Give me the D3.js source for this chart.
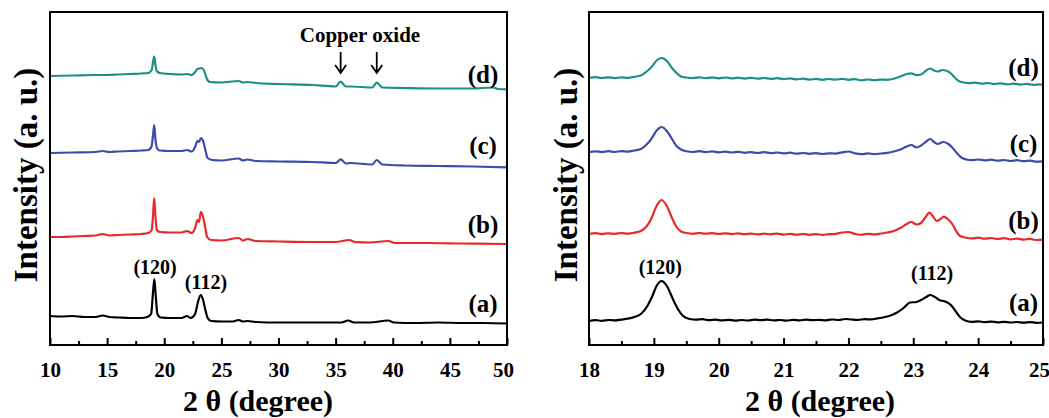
<!DOCTYPE html>
<html>
<head>
<meta charset="utf-8">
<script src="https://cdn.jsdelivr.net/npm/d3@7"></script>
<style>
  body { margin: 0; background: #fff; }
  text { font-family: "Liberation Serif", "Times New Roman", serif; font-weight: bold; fill: #000; }
</style>
</head>
<body>
<svg id="chart" width="1049" height="418"></svg>
<script>
// XRD patterns, offset vertically (a.u.); each point is [2θ (deg), intensity]
const seriesNames = ["(a)", "(b)", "(c)", "(d)"];
const seriesColors = ["#000000", "#e8282b", "#3d4bab", "#1d8f87"];

// Wide scan 10–50°
const wideA = [[10,29],[11,28.5],[12,29],[13,28],[14,28],[14.6,29.5],[15.2,28],[16,27.5],[17,27],[18,27],[18.5,28],[18.85,31],[19.0,50],[19.13,66],[19.25,50],[19.4,31],[19.7,27.5],[20.5,27],[21.5,27],[22.0,29],[22.3,27],[22.7,31],[22.95,43],[23.19,50],[23.4,45],[23.6,35],[23.8,27],[24.1,24],[25,23.5],[26.0,23.5],[26.5,25],[26.9,23.5],[27.3,24],[28,23],[30,22.5],[32,22.5],[34,22.5],[35.5,22.5],[36.1,24.5],[36.6,22.5],[38,22.5],[39.6,24.5],[40.1,22.5],[42,22],[44,22.5],[46,22],[48,22],[50,21.5]];
const wideB = [[10,108],[11,108],[12,108.5],[13,109],[14,109.5],[14.6,111],[15.2,109.5],[16,110],[17,110.5],[18,111],[18.6,112],[18.9,115],[19.02,130],[19.12,147],[19.22,130],[19.35,115],[19.6,113],[20.5,112.5],[21.5,112.5],[22.0,114],[22.4,112],[22.7,117],[22.9,125],[23.05,123],[23.2,133],[23.35,130],[23.55,120],[23.75,108],[24.1,105],[25,104.5],[26.5,107],[26.9,104.5],[27.3,106],[28,104],[30,103.5],[33,103],[35,103],[36.2,105],[36.7,103],[38,102.5],[39.6,104],[40.2,102],[43,102],[46,101.5],[50,101]];
const wideC = [[10,192],[12,192.5],[14,193],[14.6,194],[15.2,193],[16,193.5],[17,194],[18,194.5],[18.6,195],[18.9,199],[19.02,210],[19.12,220],[19.22,207],[19.35,197],[19.6,194.5],[20.5,194],[21.5,194],[22.0,195],[22.4,193.5],[22.7,198],[22.9,204],[23.05,203],[23.2,207],[23.4,204],[23.6,195],[23.8,187],[24.2,185],[25,184.5],[26.5,186.5],[26.9,184.5],[27.3,185.5],[28,184],[30,183.5],[33,183],[35,182],[35.44,185.7],[35.9,181.5],[36.3,182],[38.2,180.5],[38.6,185],[39.1,180.5],[41,179.5],[44,179],[47,178.5],[50,177.7]];
const wideD = [[10,269],[12,269.5],[14,270],[15,270],[16,270.5],[17,271],[18,271.5],[18.6,272],[18.9,275],[19.02,283],[19.12,288.5],[19.22,281],[19.35,274],[19.6,272],[20.5,271],[21.5,270.5],[22.0,271],[22.4,270],[22.7,273],[22.9,276],[23.1,276.5],[23.3,277],[23.5,274],[23.7,267],[24.0,263],[25,262.5],[26.5,264],[26.9,262.5],[27.3,263],[28,262],[30,261],[33,260],[35,258.5],[35.44,263.3],[35.9,258.5],[36.3,258.5],[38.2,257.5],[38.6,262.3],[39.1,257.5],[41,257],[44,256.5],[47,256.5],[48.8,257.5],[49.2,256],[50,255.7]];

// Narrow scan 18–25°
const zoomA = [[18,24],[18.1,24.8],[18.2,24.2],[18.3,25],[18.4,24.6],[18.5,25.4],[18.6,26.3],[18.7,28],[18.8,31],[18.9,39],[18.97,48],[19.05,60],[19.12,64],[19.2,59],[19.3,45],[19.38,35],[19.45,29],[19.55,26],[19.65,25.3],[19.75,25.8],[19.85,24.8],[19.95,25.3],[20.05,24.6],[20.15,25.2],[20.25,24.4],[20.35,25],[20.45,24.5],[20.55,25.3],[20.65,24.8],[20.75,25.4],[20.85,24.6],[20.95,25],[21.05,24.4],[21.15,25.1],[21.25,24.6],[21.35,25.4],[21.45,24.8],[21.55,25.2],[21.65,24.7],[21.75,25.5],[21.85,25],[21.95,26],[22.05,25.5],[22.15,25.2],[22.25,25.8],[22.35,25.6],[22.45,26.6],[22.55,27.8],[22.65,29.5],[22.75,32.5],[22.85,37],[22.95,42.5],[23.05,43],[23.12,45],[23.2,48],[23.26,50],[23.32,48.5],[23.4,45],[23.5,43.3],[23.58,40],[23.65,34],[23.72,28],[23.8,24.5],[23.9,23.2],[24.0,23.6],[24.1,22.9],[24.2,23.4],[24.3,22.7],[24.4,23.2],[24.5,22.5],[24.6,23],[24.7,22.4],[24.8,22.9],[24.9,22.2],[25,22.5]];
const zoomB = [[18,111],[18.1,111.8],[18.2,110.9],[18.3,111.7],[18.4,111.2],[18.5,112],[18.6,111.4],[18.7,112.3],[18.8,114],[18.88,118],[18.95,125],[19.05,140],[19.12,145],[19.2,139],[19.28,127],[19.35,118],[19.42,113.5],[19.5,112],[19.6,111.2],[19.7,112],[19.8,111.3],[19.9,111.9],[20.0,111],[20.1,111.7],[20.2,110.9],[20.3,111.6],[20.4,110.8],[20.5,111.4],[20.6,110.6],[20.7,111.3],[20.8,110.7],[20.9,111.4],[21.0,110.4],[21.1,111.1],[21.2,110.3],[21.3,111],[21.4,110.2],[21.5,110.9],[21.6,110.1],[21.7,110.8],[21.8,111.2],[21.9,112.5],[22.0,113],[22.1,111],[22.2,110.2],[22.3,111.2],[22.4,110.6],[22.5,111.5],[22.6,112.5],[22.7,114],[22.8,117],[22.9,121],[22.97,123],[23.05,120.5],[23.12,122],[23.18,127],[23.25,132.3],[23.3,129],[23.36,124],[23.42,126],[23.47,128.3],[23.53,126],[23.6,121],[23.66,114],[23.72,109],[23.8,107.5],[23.9,106.6],[24.0,107.3],[24.1,106.3],[24.2,107],[24.3,106],[24.4,106.8],[24.5,105.6],[24.6,106.4],[24.7,105.4],[24.8,106.1],[24.9,105],[25,105.3]];
const zoomC = [[18,193],[18.1,193.7],[18.2,192.9],[18.3,193.8],[18.4,193.1],[18.5,193.9],[18.6,193.3],[18.7,194.5],[18.8,196],[18.88,200],[18.95,205],[19.05,215],[19.12,218],[19.2,214],[19.28,206],[19.35,199],[19.42,195.5],[19.5,193.8],[19.6,193],[19.7,193.8],[19.8,192.9],[19.9,193.6],[20.0,192.6],[20.1,193.4],[20.2,192.5],[20.3,193.2],[20.4,192.2],[20.5,192.9],[20.6,192],[20.7,192.8],[20.8,191.9],[20.9,192.5],[21.0,191.6],[21.1,192.3],[21.2,191.3],[21.3,192],[21.4,191.2],[21.5,191.9],[21.6,191],[21.7,191.7],[21.8,191.4],[21.9,192.6],[22.0,193.5],[22.1,191.6],[22.2,190.8],[22.3,191.6],[22.4,190.9],[22.5,191.5],[22.6,192.2],[22.7,193.5],[22.8,195.5],[22.9,198.5],[22.97,200],[23.05,197.5],[23.12,199.5],[23.19,203],[23.26,206],[23.32,203],[23.38,201],[23.46,203],[23.53,201.5],[23.6,197.5],[23.67,192],[23.74,187.5],[23.82,185.5],[23.9,184.8],[24.0,185.5],[24.1,184.6],[24.2,185.3],[24.3,184.3],[24.4,185],[24.5,184],[24.6,184.8],[24.7,183.8],[24.8,184.4],[24.9,183.3],[25,183.6]];
const zoomD = [[18,267],[18.1,267.8],[18.2,267],[18.3,267.7],[18.4,266.9],[18.5,267.6],[18.6,267.2],[18.7,268.2],[18.8,269.5],[18.88,273],[18.95,277],[19.05,285],[19.12,287],[19.2,284],[19.28,277],[19.35,272],[19.42,268.5],[19.5,267.5],[19.6,266.9],[19.7,267.7],[19.8,266.8],[19.9,267.6],[20.0,266.7],[20.1,267.5],[20.2,266.6],[20.3,267.3],[20.4,266.4],[20.5,267.2],[20.6,266.3],[20.7,267],[20.8,266.1],[20.9,266.8],[21.0,265.9],[21.1,266.6],[21.2,265.6],[21.3,266.4],[21.4,265.4],[21.5,266.1],[21.6,265.2],[21.7,266],[21.8,265.3],[21.9,266.2],[22.0,265.2],[22.1,265.9],[22.2,264.7],[22.3,265.5],[22.4,264.8],[22.5,265.4],[22.6,265.2],[22.7,266.3],[22.8,268.5],[22.9,271],[22.97,271.7],[23.05,269.8],[23.12,270.5],[23.19,274],[23.26,276.5],[23.32,274.5],[23.38,273.5],[23.45,275],[23.52,274],[23.58,271.5],[23.64,267.5],[23.7,264],[23.78,262.5],[23.86,261.8],[23.95,262.3],[24.05,261.4],[24.15,262],[24.25,261],[24.35,261.6],[24.45,260.7],[24.55,261.3],[24.65,260.4],[24.75,261.1],[24.85,260.2],[24.95,260.6],[25,260.2]];

const wideTicks = [10, 15, 20, 25, 30, 35, 40, 45, 50];
const wideMinor = [12.5, 17.5, 22.5, 27.5, 32.5, 37.5, 42.5, 47.5];
const zoomTicks = [18, 19, 20, 21, 22, 23, 24, 25];
const zoomMinor = [18.5, 19.5, 20.5, 21.5, 22.5, 23.5, 24.5];

// label anchor positions [2θ, intensity]
const wideSeriesLabelPos = [[47.9, 42], [47.9, 121], [47.9, 200], [47.9, 271]];
const zoomSeriesLabelPos = [[24.7, 43], [24.7, 125], [24.7, 202], [24.7, 278]];
const widePeakLabels = [["(120)", 19.2, 78], ["(112)", 23.65, 63]];
const zoomPeakLabels = [["(120)", 19.1, 78], ["(112)", 23.29, 72]];
const oxideLabel = ["Copper oxide", 37.13, 310];
const oxidePeaks = [35.44, 38.6];

const svg = d3.select("#chart");
const plotTop = 12, plotBottom = 345;
const y = d3.scaleLinear().domain([0, 333]).range([plotBottom, plotTop]);

const panels = [
  { left: 50, right: 507, domain: [10, 50], ticks: wideTicks, minor: wideMinor,
    series: [wideA, wideB, wideC, wideD], labelPos: wideSeriesLabelPos, peaks: widePeakLabels,
    titleX: 258, ylabelX: 37 },
  { left: 589, right: 1043, domain: [18, 25], ticks: zoomTicks, minor: zoomMinor,
    series: [zoomA, zoomB, zoomC, zoomD], labelPos: zoomSeriesLabelPos, peaks: zoomPeakLabels,
    titleX: 820, ylabelX: 577 }
];

panels.forEach((p, pi) => {
  const x = d3.scaleLinear().domain(p.domain).range([p.left, p.right]);
  const g = svg.append("g");

  // curves
  const line = d3.line().x(d => x(d[0])).y(d => y(d[1])).curve(d3.curveMonotoneX);
  p.series.forEach((s, i) => {
    g.append("path").datum(s)
      .attr("fill", "none")
      .attr("stroke", seriesColors[i])
      .attr("stroke-width", 2.2)
      .attr("stroke-linejoin", "round")
      .attr("d", line);
  });

  // inward major ticks with labels
  const ax = g.append("g").attr("transform", `translate(0,${plotBottom})`)
    .call(d3.axisBottom(x).tickValues(p.ticks).tickSizeInner(-7).tickSizeOuter(0).tickPadding(17).tickFormat(d3.format("d")));
  ax.select(".domain").remove();
  ax.selectAll(".tick line").attr("stroke", "#000").attr("stroke-width", 2);
  ax.selectAll(".tick text").style("font-size", "21px").style("font-family", "Liberation Serif, serif").style("font-weight", "bold").attr("fill", "#000");
  // keep the last label inside the page edge
  ax.selectAll(".tick text").filter((d, i, n) => i === n.length - 1).attr("dx", -4);

  // inward minor ticks
  const mx = g.append("g").attr("transform", `translate(0,${plotBottom})`)
    .call(d3.axisBottom(x).tickValues(p.minor).tickSizeInner(-4).tickSizeOuter(0).tickFormat(""));
  mx.select(".domain").remove();
  mx.selectAll(".tick line").attr("stroke", "#000").attr("stroke-width", 2);

  // frame
  g.append("rect")
    .attr("x", p.left).attr("y", plotTop)
    .attr("width", p.right - p.left).attr("height", plotBottom - plotTop)
    .attr("fill", "none").attr("stroke", "#000").attr("stroke-width", 2);

  // series labels
  p.labelPos.forEach((pos, i) => {
    g.append("text").attr("x", x(pos[0])).attr("y", y(pos[1]))
      .attr("text-anchor", "middle").attr("dominant-baseline", "central")
      .style("font-size", "25px").text(seriesNames[i]);
  });

  // reflection indices
  p.peaks.forEach(([t, px, py]) => {
    g.append("text").attr("x", x(px)).attr("y", y(py))
      .attr("text-anchor", "middle").attr("dominant-baseline", "central")
      .style("font-size", "20px").text(t);
  });

  // axis titles
  g.append("text").attr("x", p.titleX).attr("y", 411)
    .attr("text-anchor", "middle").style("font-size", "30px")
    .text("2 θ (degree)");
  g.append("text")
    .attr("transform", `translate(${p.ylabelX},175) rotate(-90)`)
    .attr("text-anchor", "middle").style("font-size", "33px")
    .text("Intensity (a. u.)");

  // copper oxide markers on the wide scan
  if (pi === 0) {
    g.append("text").attr("x", x(oxideLabel[1])).attr("y", y(oxideLabel[2]))
      .attr("text-anchor", "middle").attr("dominant-baseline", "central")
      .style("font-size", "21px").text(oxideLabel[0]);
    oxidePeaks.forEach(v => {
      const ax0 = x(v), yTop = y(293), yTip = y(272);
      g.append("path")
        .attr("d", `M${ax0},${yTop}L${ax0},${yTip}M${ax0 - 5.5},${yTip - 8}L${ax0},${yTip}L${ax0 + 5.5},${yTip - 8}`)
        .attr("fill", "none").attr("stroke", "#000").attr("stroke-width", 1.8);
    });
  }
});
</script>
</body>
</html>
